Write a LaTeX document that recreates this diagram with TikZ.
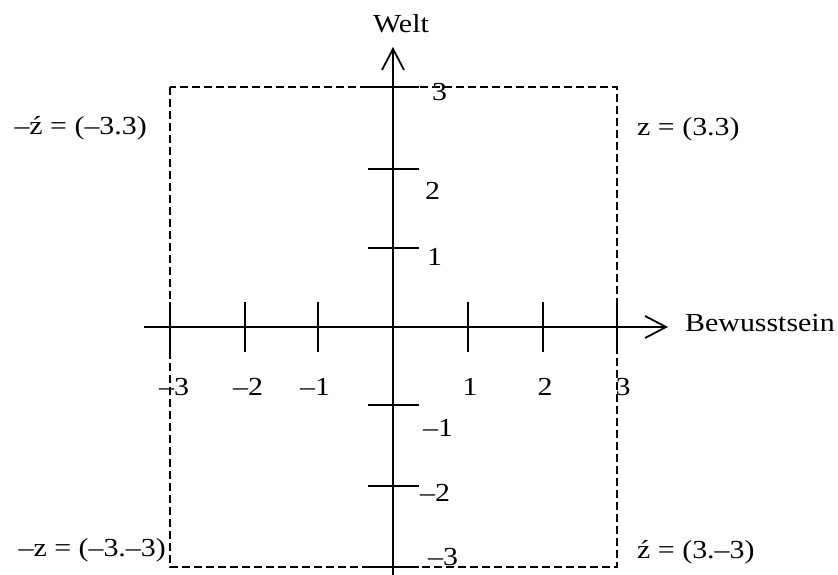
\documentclass[tikz,border=0pt]{standalone}
\usepackage{fontspec}
\setmainfont{Liberation Serif}[FakeStretch=1.15]
\usetikzlibrary{arrows.meta}
\begin{document}
\begin{tikzpicture}[x=1pt,y=-1pt,
  axis/.style={line width=1.8pt, -{Straight Barb[length=21pt,width=22pt,line width=1.8pt]}},
  tickmark/.style={line width=1.8pt},
  frame/.style={line width=1.3pt, dash pattern=on 8pt off 4pt},
  lbl/.style={inner sep=0pt, font=\fontsize{26}{30}\selectfont},
]
\useasboundingbox (0,0) rectangle (838,575);
% frame
\coordinate (f1) at (170,87);
\coordinate (f2) at (617,567);
\draw[frame] (f1) rectangle (f2);
% axes
\coordinate (xs) at (144,327);
\coordinate (xe) at (668,327);
\coordinate (ys) at (393,575);
\coordinate (ye) at (393,47);
\draw[axis] (xs) -- (xe);
\draw[axis] (ys) -- (ye);
% ticks
\foreach \x in {170,245,318,468,543,617}
  \draw[tickmark] (\x,302) -- (\x,352);
\foreach \y in {87,169,248,405,486,567}
  \draw[tickmark] (368,\y) -- (419,\y);
% axis labels
\node[lbl] (welt) at (401,24) {Welt};
\node[lbl, anchor=west] (bew) at (685,323) {Bewusstsein};
% vertical tick labels
\node[lbl, anchor=west] (v3) at (432,92) {3};
\node[lbl, anchor=west] (v2) at (425,191) {2};
\node[lbl, anchor=west] (v1) at (427,257) {1};
\node[lbl, anchor=west] (vm1) at (423,428) {\textendash1};
\node[lbl, anchor=west] (vm2) at (420,493) {\textendash2};
\node[lbl, anchor=west] (vm3) at (428,557) {\textendash3};
% horizontal tick labels
\node[lbl] (hm3) at (174,387) {\textendash3};
\node[lbl] (hm2) at (248,387) {\textendash2};
\node[lbl] (hm1) at (315,387) {\textendash1};
\node[lbl] (h1) at (470,387) {1};
\node[lbl] (h2) at (545,387) {2};
\node[lbl] (h3) at (623,387) {3};
% corner labels
\node[lbl, anchor=east] (ctl) at (147,128) {\textendash ź = (\textendash3.3)};
\node[lbl, anchor=west] (ctr) at (637,129) {z = (3.3)};
\node[lbl, anchor=east] (cbl) at (166,550) {\textendash z = (\textendash3.\textendash3)};
\node[lbl, anchor=west] (cbr) at (637,552) {ź = (3.\textendash3)};
\end{tikzpicture}
\end{document}
